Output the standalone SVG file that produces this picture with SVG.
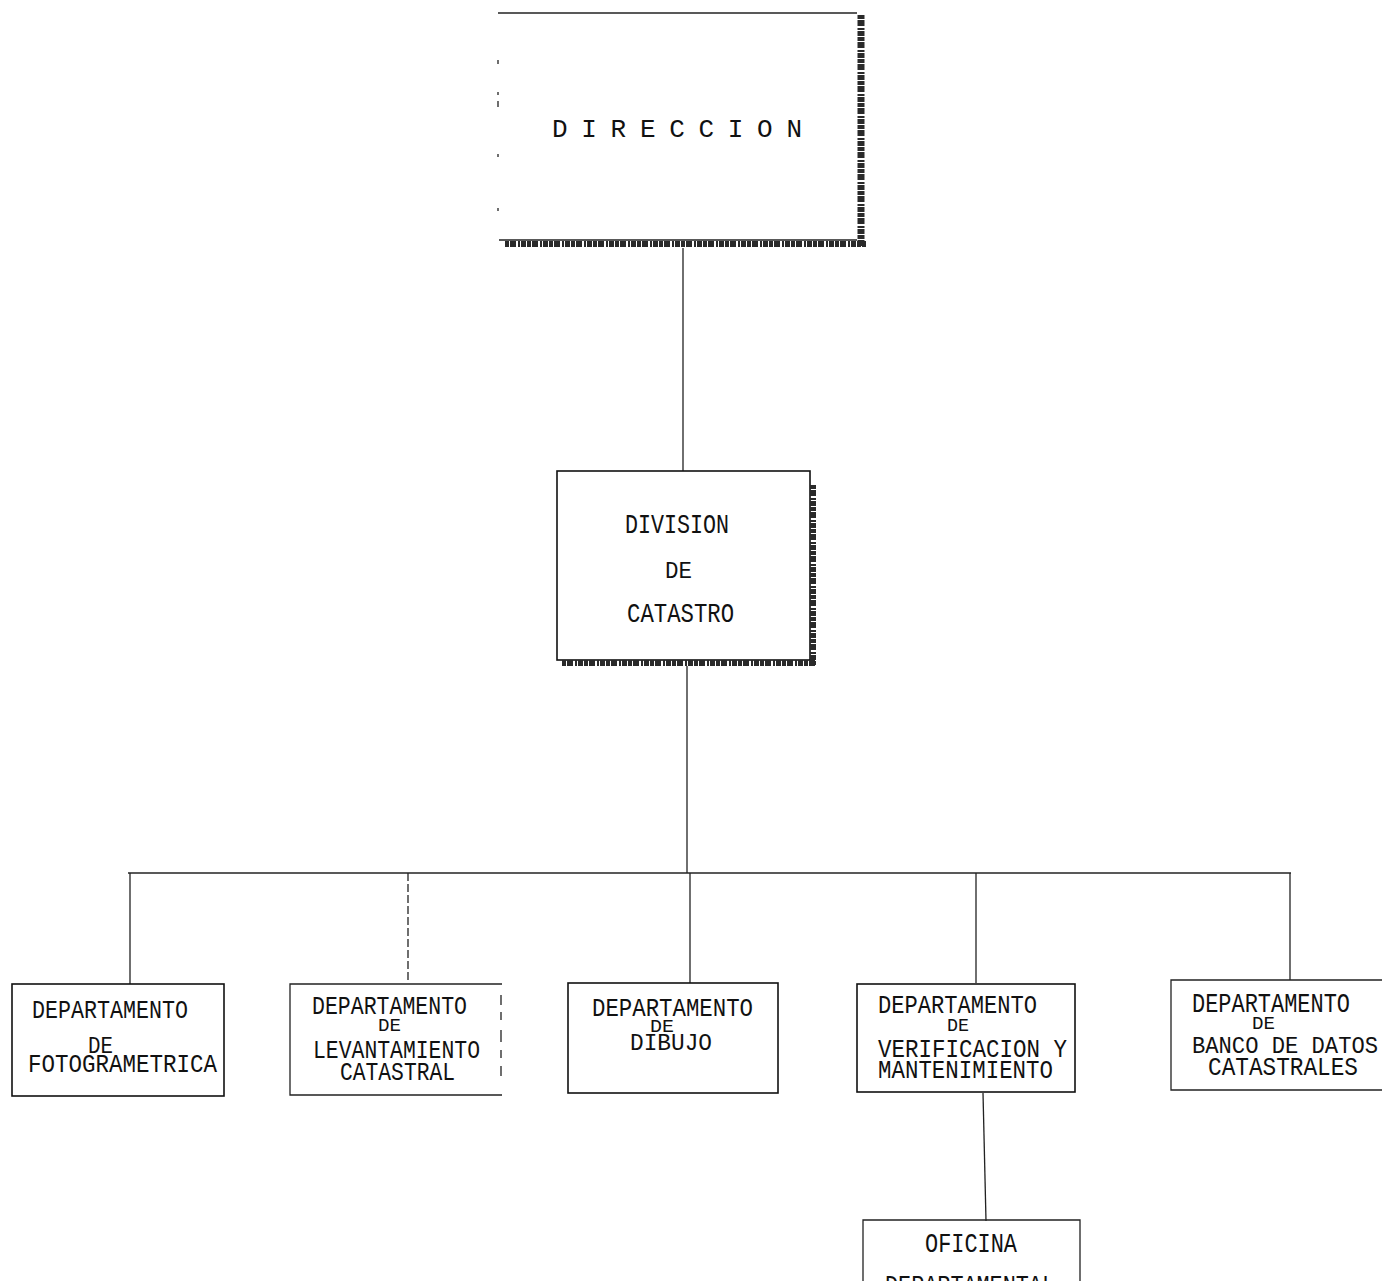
<svg xmlns="http://www.w3.org/2000/svg" width="1382" height="1281" viewBox="0 0 1382 1281">
<style>
.box{fill:#fff;stroke:#111;stroke-width:1.6}
.ln{stroke:#222;stroke-width:1.3;fill:none}
.sh{stroke:#2a2a2a;fill:none;stroke-dasharray:4 1 6 2 2 1 5 1}
.t{font-family:"Liberation Mono","DejaVu Sans Mono",monospace;font-size:26px;fill:#111}
.s{font-size:19px}
</style>
<rect width="1382" height="1281" fill="#fff"/>
<g id="connectors">
<line class="ln" x1="683" y1="248" x2="683" y2="471"/>
<line class="ln" x1="687" y1="666" x2="687" y2="873"/>
<line class="ln" x1="128" y1="873" x2="1291" y2="873"/>
<line class="ln" x1="130" y1="873" x2="130" y2="985"/>
<line class="ln" x1="408" y1="873" x2="408" y2="983" stroke-dasharray="8 3"/>
<line class="ln" x1="690" y1="873" x2="690" y2="983"/>
<line class="ln" x1="976" y1="873" x2="976" y2="983"/>
<line class="ln" x1="1290" y1="873" x2="1290" y2="980"/>
<line class="ln" x1="983" y1="1093" x2="986" y2="1221"/>
</g>
<g id="direccion">
<line class="ln" x1="498" y1="13" x2="857" y2="13" stroke-width="2"/>
<line class="ln" x1="499" y1="240" x2="857" y2="240"/>
<path class="ln" d="M498 60v4M498 92v3M498 101v6M498 154v3M498 208v3"/>
<line class="sh" x1="861" y1="15" x2="861" y2="248" stroke-width="7"/>
<line class="sh" x1="505" y1="244" x2="866" y2="244" stroke-width="6"/>
<text class="t" x="552" y="137" textLength="250" lengthAdjust="spacing">DIRECCION</text>
</g>
<g id="division">
<rect class="box" x="557" y="471" width="253" height="189"/>
<line class="sh" x1="813" y1="485" x2="813" y2="666" stroke-width="6"/>
<line class="sh" x1="562" y1="663" x2="816" y2="663" stroke-width="6"/>
<text class="t" x="625" y="533" style="font-size:27px" textLength="104" lengthAdjust="spacingAndGlyphs">DIVISION</text>
<text class="t" x="665" y="578" style="font-size:24px" textLength="27" lengthAdjust="spacingAndGlyphs">DE</text>
<text class="t" x="627" y="622" style="font-size:28px" textLength="107" lengthAdjust="spacingAndGlyphs">CATASTRO</text>
</g>
<g id="fotogrametrica">
<rect class="box" x="12" y="984" width="212" height="112"/>
<text class="t" x="32" y="1018" textLength="156" lengthAdjust="spacingAndGlyphs">DEPARTAMENTO</text>
<text class="t" x="88" y="1053" style="font-size:23px" textLength="25" lengthAdjust="spacingAndGlyphs">DE</text>
<text class="t" x="28" y="1072" textLength="189" lengthAdjust="spacingAndGlyphs">FOTOGRAMETRICA</text>
</g>
<g id="levantamiento">
<path class="ln" d="M502 984H290V1095H502"/>
<path class="ln" d="M501 995v10M501 1012v8M501 1030v12M501 1050v8M501 1066v10" stroke="#888"/>
<text class="t" x="312" y="1014" textLength="155" lengthAdjust="spacingAndGlyphs">DEPARTAMENTO</text>
<text class="t s" x="378" y="1031" textLength="23" lengthAdjust="spacingAndGlyphs">DE</text>
<text class="t" x="313" y="1058" textLength="167" lengthAdjust="spacingAndGlyphs">LEVANTAMIENTO</text>
<text class="t" x="340" y="1080" textLength="115" lengthAdjust="spacingAndGlyphs">CATASTRAL</text>
</g>
<g id="dibujo">
<rect class="box" x="568" y="983" width="210" height="110"/>
<text class="t" x="592" y="1016" textLength="161" lengthAdjust="spacingAndGlyphs">DEPARTAMENTO</text>
<text class="t s" x="650" y="1032" textLength="24" lengthAdjust="spacingAndGlyphs">DE</text>
<text class="t" x="630" y="1050" style="font-size:23px" textLength="82" lengthAdjust="spacingAndGlyphs">DIBUJO</text>
</g>
<g id="verificacion">
<rect class="box" x="857" y="984" width="218" height="108"/>
<text class="t" x="878" y="1013" textLength="159" lengthAdjust="spacingAndGlyphs">DEPARTAMENTO</text>
<text class="t s" x="947" y="1031" textLength="22" lengthAdjust="spacingAndGlyphs">DE</text>
<text class="t" x="878" y="1057" textLength="189" lengthAdjust="spacingAndGlyphs">VERIFICACION Y</text>
<text class="t" x="878" y="1078" textLength="175" lengthAdjust="spacingAndGlyphs">MANTENIMIENTO</text>
</g>
<g id="banco">
<path class="ln" d="M1382 980H1171V1090H1382"/>
<text class="t" x="1192" y="1012" style="font-size:27px" textLength="158" lengthAdjust="spacingAndGlyphs">DEPARTAMENTO</text>
<text class="t s" x="1252" y="1029" textLength="23" lengthAdjust="spacingAndGlyphs">DE</text>
<text class="t" x="1192" y="1053" style="font-size:24px" textLength="186" lengthAdjust="spacingAndGlyphs">BANCO DE DATOS</text>
<text class="t" x="1208" y="1075" textLength="150" lengthAdjust="spacingAndGlyphs">CATASTRALES</text>
</g>
<g id="oficina">
<path class="ln" d="M863 1290V1220H1080V1290"/>
<text class="t" x="925" y="1252" style="font-size:28px" textLength="92" lengthAdjust="spacingAndGlyphs">OFICINA</text>
<text class="t" x="885" y="1293" textLength="170" lengthAdjust="spacingAndGlyphs">DEPARTAMENTAL</text>
</g>
</svg>
